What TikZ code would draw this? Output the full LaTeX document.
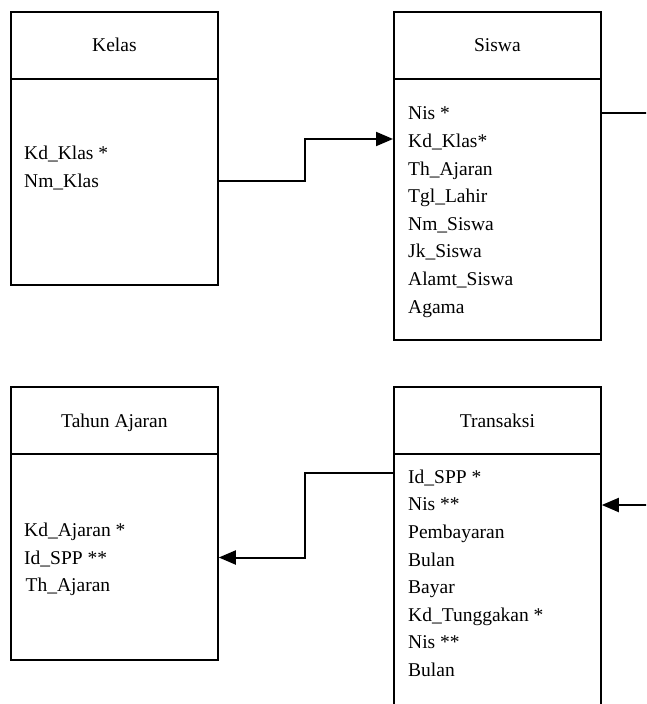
\documentclass[tikz,border=0pt]{standalone}
\usepackage{fontspec}
\setmainfont{Liberation Serif}
\usetikzlibrary{arrows.meta}
\begin{document}
\begin{tikzpicture}[x=1pt,y=-1pt,
  box/.style={draw, line width=1.8pt, inner sep=0pt, anchor=north west, minimum width=207pt},
  divider/.style={line width=1.8pt},
  lbl/.style={inner sep=0pt, text height=13.3pt, text depth=0pt, font=\fontsize{19.5}{22}\selectfont},
  fld/.style={lbl, anchor=west},
  conn/.style={line width=2pt},
  arr/.style={conn, -{Triangle[length=17pt,width=14pt]}}]
\useasboundingbox (0,0) rectangle (646,704);
\clip (0,0) rectangle (646,704);

% boxes
\node[box, minimum height=273.3pt] (kelas) at (10,10.7) {};
\node[box, minimum height=328.3pt] (siswa) at (393,10.7) {};
\node[box, minimum height=273pt] (tahun) at (10,386) {};
\node[box, minimum height=400pt] (trans) at (393,386) {};

% dividers
\draw[divider] ([yshift=-68.3pt]kelas.north west) -- ([yshift=-68.3pt]kelas.north east);
\draw[divider] ([yshift=-68.3pt]siswa.north west) -- ([yshift=-68.3pt]siswa.north east);
\draw[divider] ([yshift=-68pt]tahun.north west) -- ([yshift=-68pt]tahun.north east);
\draw[divider] ([yshift=-68pt]trans.north west) -- ([yshift=-68pt]trans.north east);

% headers
\node[lbl] (hkelas) at ([yshift=-34.2pt]kelas.north) {Kelas};
\node[lbl] (hsiswa) at ([yshift=-34.2pt]siswa.north) {Siswa};
\node[lbl] (htahun) at ([yshift=-34.5pt]tahun.north) {Tahun Ajaran};
\node[lbl] (htrans) at ([yshift=-34.5pt]trans.north) {Transaksi};

% Kelas fields
\node[fld] (kdklas) at (24,153) {Kd\_Klas *};
\node[fld] (nmklas) at (24,181) {Nm\_Klas};

% Siswa fields
\node[fld] (snis)   at (408,113.3) {Nis *};
\node[fld] (skd)    at (408,140.9) {Kd\_Klas*};
\node[fld] (sth)    at (408,168.5) {Th\_Ajaran};
\node[fld] (stgl)   at (408,196.1) {Tgl\_Lahir};
\node[fld] (snm)    at (408,223.7) {Nm\_Siswa};
\node[fld] (sjk)    at (408,251.3) {Jk\_Siswa};
\node[fld] (salamt) at (408,278.9) {Alamt\_Siswa};
\node[fld] (sagama) at (408,306.5) {Agama};

% Tahun Ajaran fields
\node[fld] (tkd)  at (24,530) {Kd\_Ajaran *};
\node[fld] (tid)  at (24,557.5) {Id\_SPP **};
\node[fld] (tth)  at (25.5,585) {Th\_Ajaran};

% Transaksi fields
\node[fld] (xid)    at (408,476.7) {Id\_SPP *};
\node[fld] (xnis)   at (408,504.3) {Nis **};
\node[fld] (xpem)   at (408,531.9) {Pembayaran};
\node[fld] (xbul)   at (408,559.5) {Bulan};
\node[fld] (xbay)   at (408,587.1) {Bayar};
\node[fld] (xkdt)   at (408,614.7) {Kd\_Tunggakan *};
\node[fld] (xnis2)  at (408,642.3) {Nis **};
\node[fld] (xbul2)  at (408,669.9) {Bulan};

% free ends at the right margin
\coordinate (outS) at (650,113.3);
\coordinate (inT) at (650,505);

% connectors
\draw[arr] (kelas.east |- nmklas) -- (305,181) |- ([yshift=1.9pt]siswa.west |- skd);
\draw[conn] (siswa.east |- snis) -- (outS);
\draw[arr] (inT) -- (trans.east |- inT);
\draw[arr] ([yshift=3.7pt]trans.west |- xid) -- (305,473) |- (tahun.east |- tid);
\end{tikzpicture}
\end{document}
